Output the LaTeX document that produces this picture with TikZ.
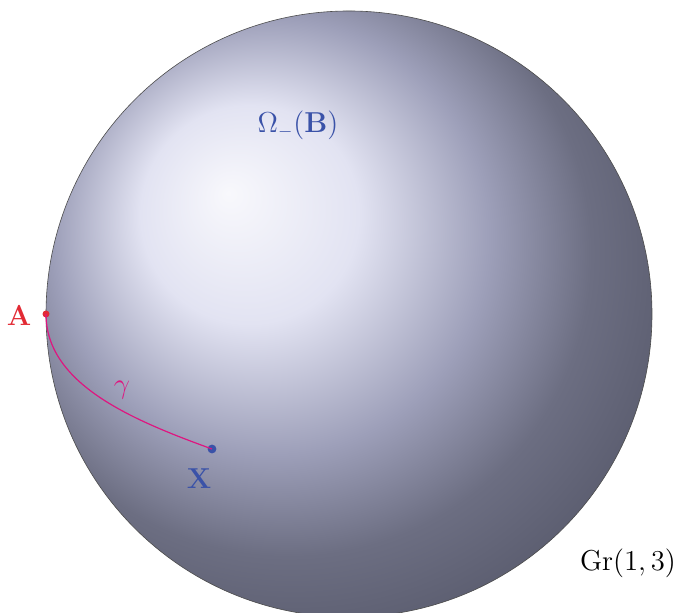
\documentclass[tikz,border=0pt]{standalone}
\usetikzlibrary{shadings}
\definecolor{cA}{RGB}{226,42,52}
\definecolor{cB}{RGB}{58,82,168}
\definecolor{cG}{RGB}{222,22,128}
\definecolor{s0}{RGB}{248,248,252}
\definecolor{s1}{RGB}{226,227,242}
\definecolor{sA}{RGB}{157,159,185}
\definecolor{sB}{RGB}{108,110,130}
\definecolor{sC}{RGB}{40,42,55}
\pgfdeclareradialshading{myball}{\pgfpoint{-10bp}{10bp}}{%
 color(0bp)=(s0); color(9bp)=(s1); color(18bp)=(sA);
 color(25bp)=(sB); color(50bp)=(sC)}
\tikzset{
  dot/.style={circle,fill,inner sep=0pt,minimum size=#1},
  lbl/.style={inner sep=0pt,font=\fontsize{13.3}{16}\selectfont}
}
\begin{document}
\begin{tikzpicture}[x=0.5pt,y=0.5pt]
\useasboundingbox (0,0) rectangle (674,613);
\path[shading=myball] (349,299) circle[radius=151.5pt];
\draw[line width=0.3pt,black!70] (349,299) circle[radius=151.5pt];
\node[dot=3.5pt,fill=cA] (A) at (46,299) {};
\node[dot=4.4pt,fill=cB] (X) at (212,164) {};
\node[lbl,text=cA] (Al) at (19,297) {$\mathbf{A}$};
\node[lbl,text=cB] (Xl) at (199,134) {$\mathbf{X}$};
\node[lbl,text=cG] (g) at (122,223) {$\gamma$};
\node[lbl,text=cB] (Om) at (298,488) {$\Omega_-(\mathbf{B})$};
\node[lbl] (Gr) at (628,50) {$\mathrm{Gr}(1,3)$};
\draw[cG,line width=0.6pt] (A.center) .. controls (46,229) and (132,193) .. (X.center);
\end{tikzpicture}
\end{document}
